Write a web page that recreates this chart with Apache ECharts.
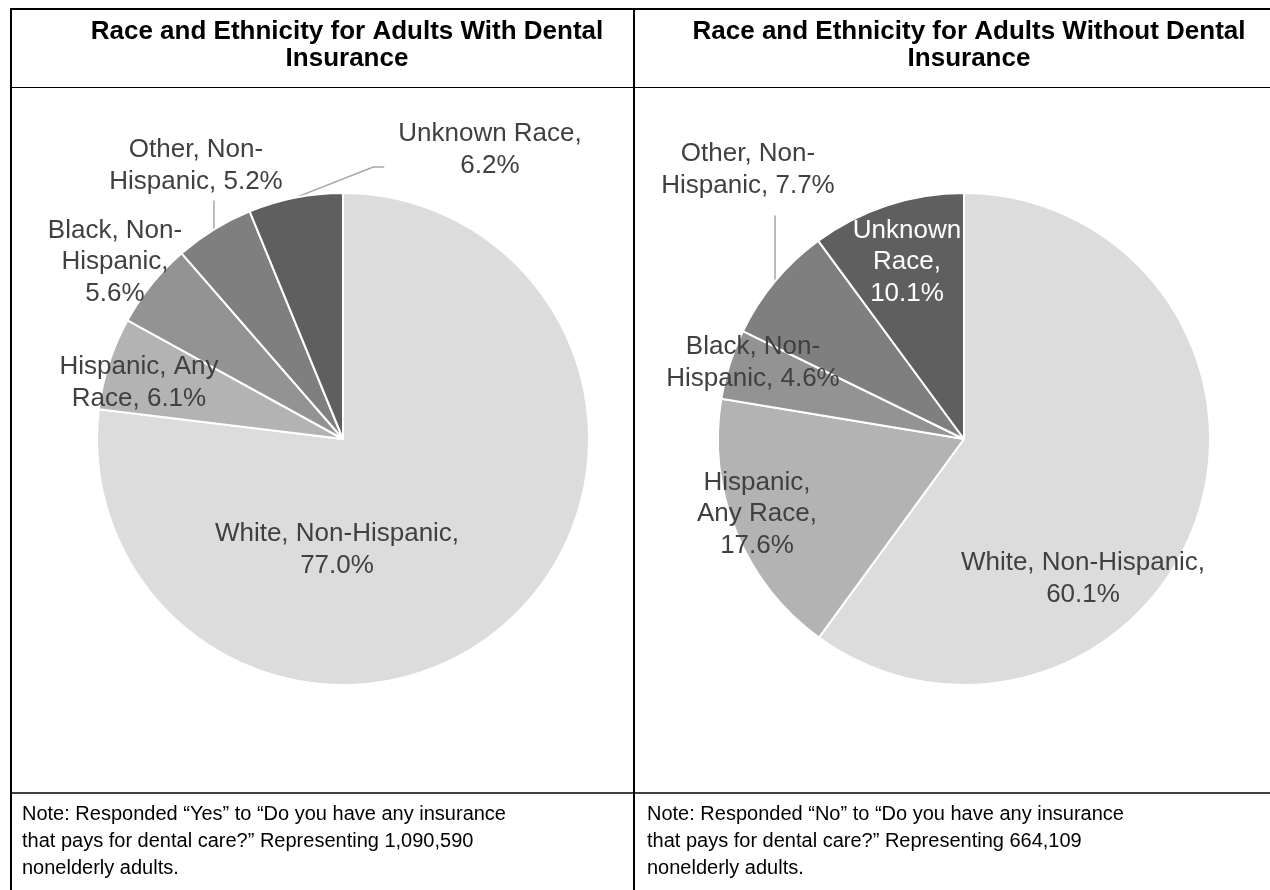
<!DOCTYPE html>
<html><head><meta charset="utf-8">
<script src="https://cdn.jsdelivr.net/npm/echarts@6/dist/echarts.min.js"></script>
<style>html,body{margin:0;padding:0;background:#fff}#c{width:1270px;height:890px}</style>
</head><body><div id="c"></div>
<script>
// ---- data ----
const categories = ['White, Non-Hispanic', 'Hispanic, Any Race', 'Black, Non-Hispanic', 'Other, Non-Hispanic', 'Unknown Race'];
const withDental = [77.0, 6.1, 5.6, 5.2, 6.2];
const withoutDental = [60.1, 17.6, 4.6, 7.7, 10.1];
const labelText1 = ['White, Non-Hispanic,\n', 'Hispanic, Any\nRace, ', 'Black, Non-\nHispanic,\n', 'Other, Non-\nHispanic, ', 'Unknown Race,\n'];
const labelText2 = ['White, Non-Hispanic,\n', 'Hispanic,\nAny Race,\n', 'Black, Non-\nHispanic, ', 'Other, Non-\nHispanic, ', 'Unknown\nRace,\n'];
const titles = ['Race and Ethnicity for Adults With Dental\nInsurance', 'Race and Ethnicity for Adults Without Dental\nInsurance'];
const notes = ['Note: Responded \u201cYes\u201d to \u201cDo you have any insurance\nthat pays for dental care?\u201d Representing 1,090,590\nnonelderly adults.',
               'Note: Responded \u201cNo\u201d to \u201cDo you have any insurance\nthat pays for dental care?\u201d Representing 664,109\nnonelderly adults.'];

// ---- styles / layout ----
const colors = ['#dcdcdc', '#b3b3b3', '#939393', '#7f7f7f', '#5f5f5f'];
const FONT = '"Liberation Sans", Arial, sans-serif';
const LABEL_POS = [
  [[337, 550], [139, 383], [115, 262], [196, 166], [490, 150]],
  [[1083, 579], [757, 514], [753, 363], [748, 170], [907, 262]]
];
const LEADERS = [
  {3: {type: 'up', gap: 3}, 4: {type: 'elbow', dy: 17}},
  {3: {type: 'up', gap: 14}}
];
const LABEL_COLORS = [[], [null, null, null, null, '#ffffff']];

function makeSeries(values, texts, center, idx) {
  return {
    type: 'pie',
    center: center,
    radius: 246,
    startAngle: 90,
    clockwise: true,
    animation: false,
    avoidLabelOverlap: false,
    silent: true,
    itemStyle: {borderColor: '#ffffff', borderWidth: 2},
    label: {
      show: true, position: 'outside', color: '#404040', fontSize: 26, lineHeight: 31.5,
      fontFamily: FONT, align: 'center',
      formatter: p => texts[p.dataIndex] + values[p.dataIndex].toFixed(1) + '%'
    },
    labelLine: {show: false, lineStyle: {color: '#a6a6a6', width: 1.5}},
    labelLayout: function (p) {
      const pos = LABEL_POS[p.seriesIndex][p.dataIndex];
      const out = {x: pos[0], y: pos[1], align: 'center', verticalAlign: 'middle'};
      const ld = LEADERS[p.seriesIndex][p.dataIndex];
      const a = p.labelLinePoints && p.labelLinePoints[0];
      if (ld && a) {
        const w = p.labelRect.width, h = p.labelRect.height;
        if (ld.type === 'up') {
          out.labelLinePoints = [[a[0], a[1]], [a[0], pos[1] + h / 2 + ld.gap]];
        } else {
          const left = pos[0] - w / 2, y0 = pos[1] + ld.dy;
          out.labelLinePoints = [[a[0], a[1]], [left - 25, y0], [left - 14, y0]];
        }
      }
      return out;
    },
    data: values.map((v, i) => {
      const d = {value: v, name: categories[i], itemStyle: {color: colors[i]},
                 labelLine: {show: !!LEADERS[idx][i]}};
      if (LABEL_COLORS[idx][i]) d.label = {color: LABEL_COLORS[idx][i]};
      return d;
    })
  };
}

const line = (x1, y1, x2, y2, w) => ({type: 'line', shape: {x1, y1, x2, y2}, style: {stroke: '#000', lineWidth: w}, silent: true});
const text = (x, y, t, opt) => ({type: 'text', x, y, silent: true,
  style: Object.assign({text: t, fill: '#000', fontFamily: FONT, verticalAlign: 'top'}, opt)});

const chart = echarts.init(document.getElementById('c'), null, {renderer: 'canvas'});
chart.setOption({
  backgroundColor: '#ffffff',
  animation: false,
  graphic: [
    line(10, 9, 1270, 9, 2),
    line(11, 8, 11, 890, 2),
    line(634, 8, 634, 890, 2),
    line(10, 87.5, 1270, 87.5, 1),
    line(10, 793, 1270, 793, 1.5),
    text(347, 18, titles[0], {align: 'center', fontSize: 26, fontWeight: 'bold', lineHeight: 27}),
    text(969, 18, titles[1], {align: 'center', fontSize: 26, fontWeight: 'bold', lineHeight: 27}),
    text(22, 801, notes[0], {align: 'left', fontSize: 20, lineHeight: 27}),
    text(647, 801, notes[1], {align: 'left', fontSize: 20, lineHeight: 27})
  ],
  series: [
    makeSeries(withDental, labelText1, [343, 439], 0),
    makeSeries(withoutDental, labelText2, [964, 439], 1)
  ]
});
</script>
</body></html>
